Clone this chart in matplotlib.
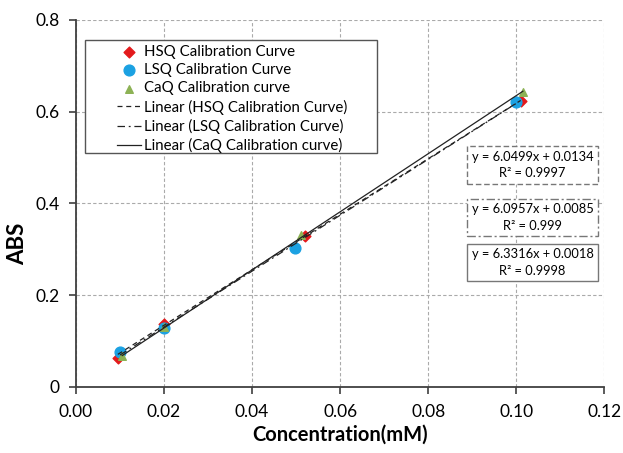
import numpy as np
import matplotlib
matplotlib.use("Agg")
import matplotlib.pyplot as plt
from matplotlib.patches import Rectangle

plt.rcParams['font.family'] = ['Lato', 'DejaVu Sans']

hsq_x = [0.0095, 0.020, 0.052, 0.101]
hsq_y = [0.064, 0.138, 0.328, 0.624]
lsq_x = [0.010, 0.020, 0.0497, 0.100]
lsq_y = [0.075, 0.129, 0.302, 0.621]
caq_x = [0.0105, 0.020, 0.0512, 0.1015]
caq_y = [0.068, 0.131, 0.331, 0.642]

hsq_fit = [6.0499, 0.0134]
lsq_fit = [6.0957, 0.0085]
caq_fit = [6.3316, 0.0018]

labels_pts = ["HSQ Calibration Curve", "LSQ Calibration Curve", "CaQ Calibration curve"]
labels_fit = ["Linear (HSQ Calibration Curve)", "Linear (LSQ Calibration Curve)",
              "Linear (CaQ Calibration curve)"]
eq_texts = ["y = 6.0499x + 0.0134\nR² = 0.9997",
            "y = 6.0957x + 0.0085\nR² = 0.999",
            "y = 6.3316x + 0.0018\nR² = 0.9998"]
xticks = [0.00, 0.02, 0.04, 0.06, 0.08, 0.10, 0.12]
yticks = [0, 0.2, 0.4, 0.6, 0.8]

fig = plt.figure(figsize=(6.23, 4.53), dpi=100)
ax = fig.add_axes([0.122, 0.146, 0.848, 0.810])

h1 = ax.scatter(hsq_x, hsq_y, marker='D', s=30, color='#e31a1c', zorder=3, label=labels_pts[0])
h2 = ax.scatter(lsq_x, lsq_y, marker='o', s=60, color='#1ba1e2', zorder=3, label=labels_pts[1])
h3 = ax.scatter(caq_x, caq_y, marker='^', s=30, color='#8db255', zorder=3, label=labels_pts[2])

def fitline(xs, fit, ls, lab):
    xx = np.array([min(xs), max(xs)])
    return ax.plot(xx, fit[0] * xx + fit[1], color='#222222', lw=0.9, ls=ls, zorder=4, label=lab)[0]

l1 = fitline(hsq_x, hsq_fit, (0, (4, 3)), labels_fit[0])
l2 = fitline(lsq_x, lsq_fit, (0, (6, 3, 1.5, 3)), labels_fit[1])
l3 = fitline(caq_x, caq_fit, '-', labels_fit[2])

ax.set_xlim(0, 0.12)
ax.set_ylim(0, 0.8)
ax.set_xticks(xticks)
ax.set_yticks(yticks)
ax.set_xticklabels([f"{v:.2f}" for v in xticks])
ax.set_yticklabels([f"{v:g}" for v in yticks])
ax.tick_params(labelsize=12.5, direction='out', length=5, width=1.2, color='#404040', pad=7)
ax.grid(True, color='#aaaaaa', ls=(0, (3, 2)), lw=0.8)
ax.set_axisbelow(True)
for s in ['top', 'right']:
    ax.spines[s].set_visible(False)
for s in ['left', 'bottom']:
    ax.spines[s].set_linewidth(1.3)
    ax.spines[s].set_color('#404040')
ax.set_xlabel("Concentration(mM)", fontsize=14.5, fontweight='bold', labelpad=4)
ax.set_ylabel("ABS", fontsize=16, fontweight='bold')
ax.yaxis.set_label_coords(-0.091, 0.39)

# legend frame (drawn separately to match padding)
ax.add_patch(Rectangle((0.017, 0.638), 0.553, 0.307, transform=ax.transAxes,
                       fc='white', ec='#555555', lw=1.0, zorder=5))
leg = ax.legend(handles=[h1, h2, h3, l1, l2, l3], loc='upper left',
                bbox_to_anchor=(0.064, 0.952), fontsize=10.8, frameon=False,
                handlelength=1.6, labelspacing=0.28, borderpad=0.0,
                handletextpad=0.2)
leg.set_zorder(6)

styles = [(0, (4, 2)), (0, (6, 2, 1.5, 2)), '-']
ypos = [0.604, 0.462, 0.339]
for t, st, yp in zip(eq_texts, styles, ypos):
    ax.text(0.864, yp, t, transform=ax.transAxes, ha='center', va='center',
            fontsize=9.3, linespacing=1.45,
            bbox=dict(boxstyle='square,pad=0.35', fc='white', ec='#777777', ls=st, lw=1.0))

fig.savefig("out.png", dpi=100)
